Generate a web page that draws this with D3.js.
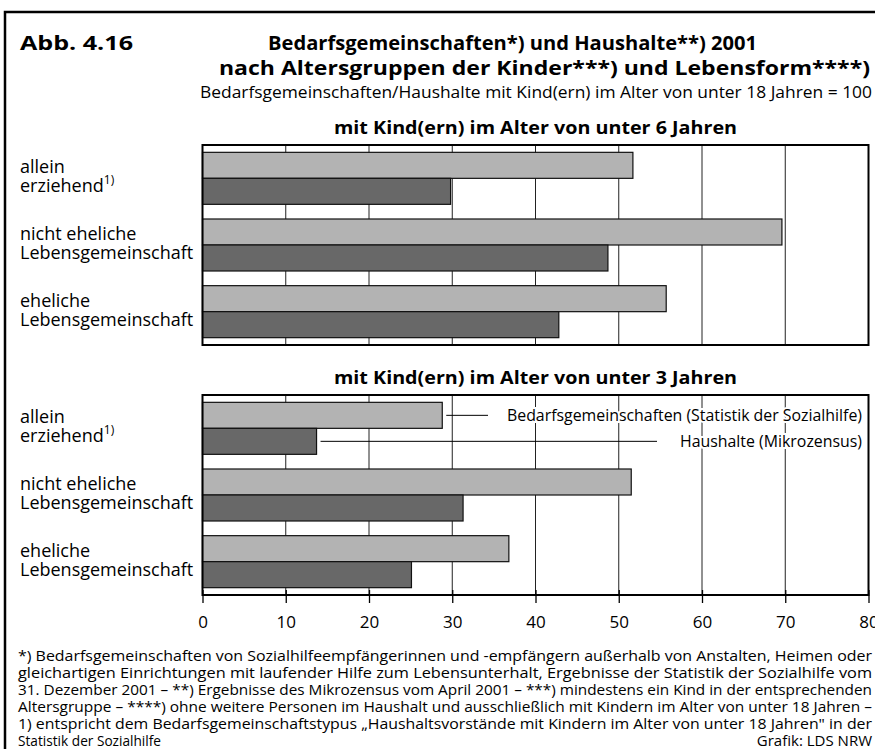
<!DOCTYPE html>
<html>
<head>
<meta charset="utf-8">
<script src="https://cdn.jsdelivr.net/npm/d3@7"></script>
<style>
  body { margin: 0; background: #fff; }
  text { font-family: "Open Sans", "Noto Sans", sans-serif; fill: #000; }
</style>
</head>
<body>
<svg id="figure" width="875" height="749"></svg>
<script>
// categories (Lebensform)
const groups = ["allein", "nicht eheliche", "eheliche"];
const groupLines = [["allein", "erziehend"], ["nicht eheliche", "Lebensgemeinschaft"], ["eheliche", "Lebensgemeinschaft"]];
const seriesKeys = ["bg", "hh"];
const seriesNames = ["Bedarfsgemeinschaften (Statistik der Sozialhilfe)", "Haushalte (Mikrozensus)"];

// values, per 100 Bedarfsgemeinschaften/Haushalte mit Kindern unter 18
const under6Bedarf = [51.7, 69.6, 55.7];
const under6Haushalte = [29.8, 48.7, 42.8];
const under3Bedarf = [28.8, 51.5, 36.8];
const under3Haushalte = [13.7, 31.3, 25.1];

const tickValues = [0, 10, 20, 30, 40, 50, 60, 70, 80];

const footnotes = [
  "*) Bedarfsgemeinschaften von Sozialhilfeempfängerinnen und -empfängern außerhalb von Anstalten, Heimen oder",
  "gleichartigen Einrichtungen mit laufender Hilfe zum Lebensunterhalt, Ergebnisse der Statistik der Sozialhilfe vom",
  "31. Dezember 2001 – **) Ergebnisse des Mikrozensus vom April 2001 – ***) mindestens ein Kind in der entsprechenden",
  "Altersgruppe – ****) ohne weitere Personen im Haushalt und ausschließlich mit Kindern im Alter von unter 18 Jahren –",
  "1) entspricht dem Bedarfsgemeinschaftstypus „Haushaltsvorstände mit Kindern im Alter von unter 18 Jahren\" in der"
];

const colors = { bg: "#b3b3b3", hh: "#686868" };

const svg = d3.select("#figure");
const panelHeight = 200;

const x = d3.scaleLinear().domain([0, 80]).range([202.5, 868.5]);

// outer frame (runs off the right and bottom edge)
svg.append("rect")
  .attr("x", 5).attr("y", 12).attr("width", 900).attr("height", 800)
  .attr("fill", "none").attr("stroke", "#000").attr("stroke-width", 2.5);

// headings
svg.append("text").attr("x", 20).attr("y", 50)
  .attr("font-size", 20).attr("font-weight", 700)
  .attr("textLength", 113).attr("lengthAdjust", "spacingAndGlyphs")
  .text("Abb. 4.16");
svg.append("text").attr("x", 268).attr("y", 50)
  .attr("font-size", 20).attr("font-weight", 700)
  .attr("textLength", 489).attr("lengthAdjust", "spacingAndGlyphs")
  .text("Bedarfsgemeinschaften*) und Haushalte**) 2001");
svg.append("text").attr("x", 219).attr("y", 75)
  .attr("font-size", 20).attr("font-weight", 700)
  .attr("textLength", 651).attr("lengthAdjust", "spacingAndGlyphs")
  .text("nach Altersgruppen der Kinder***) und Lebensform****)");
svg.append("text").attr("x", 200).attr("y", 98)
  .attr("font-size", 16)
  .attr("textLength", 672).attr("lengthAdjust", "spacingAndGlyphs")
  .text("Bedarfsgemeinschaften/Haushalte mit Kind(ern) im Alter von unter 18 Jahren = 100");

const panels = [
  { title: "mit Kind(ern) im Alter von unter 6 Jahren", top: 145, bg: under6Bedarf, hh: under6Haushalte },
  { title: "mit Kind(ern) im Alter von unter 3 Jahren", top: 395, bg: under3Bedarf, hh: under3Haushalte }
];

panels.forEach((p, pi) => {
  const g = svg.append("g");
  const rows = groups.map((name, i) => ({ name, bg: p.bg[i], hh: p.hh[i] }));

  const y0 = d3.scaleBand().domain(groups)
    .range([p.top, p.top + panelHeight])
    .paddingInner(0.22).paddingOuter(0.11);
  const y1 = d3.scaleBand().domain(seriesKeys).range([0, y0.bandwidth()]);

  // panel title
  g.append("text")
    .attr("x", (x(0) + x(80)) / 2).attr("y", p.top - 11)
    .attr("text-anchor", "middle")
    .attr("font-size", 17).attr("font-weight", 700)
    .attr("textLength", 403).attr("lengthAdjust", "spacingAndGlyphs")
    .text(p.title);

  // vertical grid lines
  g.selectAll("line.grid")
    .data(tickValues.slice(1, -1))
    .join("line")
    .attr("class", "grid")
    .attr("x1", d => x(d)).attr("x2", d => x(d))
    .attr("y1", p.top).attr("y2", p.top + panelHeight)
    .attr("stroke", "#222").attr("stroke-width", 1);

  // bars
  const rowG = g.selectAll("g.row")
    .data(rows)
    .join("g")
    .attr("class", "row")
    .attr("transform", d => `translate(0,${y0(d.name)})`);

  rowG.selectAll("rect")
    .data(d => seriesKeys.map(k => ({ key: k, value: d[k] })))
    .join("rect")
    .attr("x", x(0))
    .attr("y", d => y1(d.key))
    .attr("width", d => x(d.value) - x(0))
    .attr("height", y1.bandwidth())
    .attr("fill", d => colors[d.key])
    .attr("stroke", "#111").attr("stroke-width", 1.2);

  // category labels, two lines in one text
  rowG.each(function (d, i) {
    const c = y0.bandwidth() / 2;
    const t = d3.select(this).append("text")
      .attr("x", 20).attr("y", c - 5).attr("font-size", 18);
    t.append("tspan").text(groupLines[i][0]);
    t.append("tspan").attr("x", 20).attr("dy", 19).text(groupLines[i][1]);
    if (i === 0) {
      t.append("tspan").attr("font-size", 12).attr("dy", -8).text("1)");
    }
  });

  // panel frame
  g.append("rect")
    .attr("x", x(0)).attr("y", p.top)
    .attr("width", x(80) - x(0)).attr("height", panelHeight)
    .attr("fill", "none").attr("stroke", "#000").attr("stroke-width", 2);

  // legend inside the lower panel
  if (pi === 1) {
    const first = rows[0];
    const legendEnds = { bg: 488, hh: 657 };
    const legendWidths = { bg: 355, hh: 182 };
    seriesKeys.forEach((k, si) => {
      const cy = y0(first.name) + y1(k) + y1.bandwidth() / 2;
      g.append("line")
        .attr("x1", x(first[k]) + 4).attr("x2", legendEnds[k])
        .attr("y1", cy).attr("y2", cy)
        .attr("stroke", "#000").attr("stroke-width", 1);
      g.append("text")
        .attr("x", 862 - legendWidths[k]).attr("y", cy + 6)
        .attr("font-size", 16)
        .attr("textLength", legendWidths[k]).attr("lengthAdjust", "spacingAndGlyphs")
        .attr("stroke", "#fff").attr("stroke-width", 4)
        .attr("paint-order", "stroke")
        .text(seriesNames[si]);
    });

    // x axis below the lower panel
    const axis = svg.append("g")
      .attr("transform", `translate(0,${p.top + panelHeight})`)
      .call(d3.axisBottom(x).tickValues(tickValues).tickSizeOuter(0).tickSizeInner(8).tickPadding(13));
    axis.select(".domain").remove();
    axis.selectAll(".tick line").attr("y1", -5).attr("stroke", "#000").attr("stroke-width", 1.3);
    axis.selectAll(".tick text")
      .attr("font-family", "\"Open Sans\", sans-serif")
      .attr("font-size", 17).attr("fill", "#000");
  }
});

// footnotes
const fn = svg.append("g");
footnotes.forEach((t, i) => {
  fn.append("text")
    .attr("x", 18).attr("y", 661 + i * 17)
    .attr("font-size", 15)
    .attr("textLength", 854).attr("lengthAdjust", "spacingAndGlyphs")
    .text(t);
});
fn.append("text").attr("x", 18).attr("y", 746).attr("font-size", 15)
  .attr("textLength", 143).attr("lengthAdjust", "spacingAndGlyphs")
  .text("Statistik der Sozialhilfe");
fn.append("text").attr("x", 872).attr("y", 746).attr("font-size", 15)
  .attr("text-anchor", "end")
  .text("Grafik: LDS NRW");
</script>
</body>
</html>
